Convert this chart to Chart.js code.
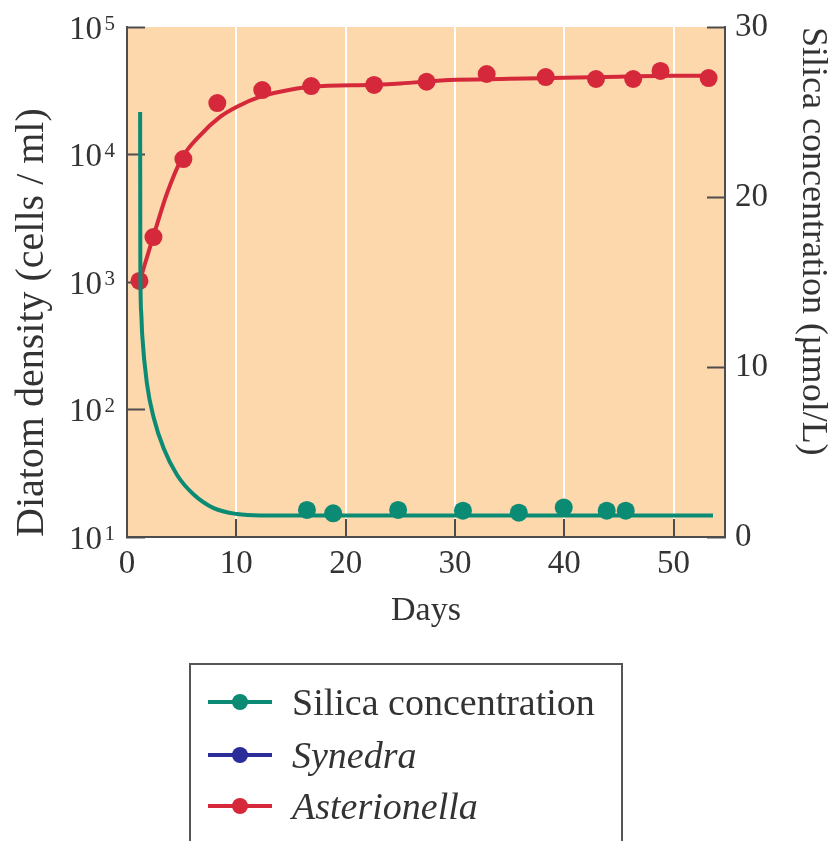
<!DOCTYPE html>
<html>
<head>
<meta charset="utf-8">
<script src="https://cdn.jsdelivr.net/npm/chart.js@4.4.0/dist/chart.umd.min.js"></script>
<style>
    body { margin: 0; width: 839px; height: 841px; overflow: hidden; background: #fff; font-family: 'Liberation Serif', serif; color: #333; }
    #wrap { position: absolute; left: 0; top: 0; width: 839px; height: 841px; }
    .legenda { position: absolute; left: 189px; top: 663px; width: 434px; height: 220px; border: 2px solid #555; box-sizing: border-box; }
    .item { position: absolute; left: 17px; height: 50px; display: flex; align-items: center; font-size: 38px; white-space: nowrap; }
    .amostra { position: relative; width: 64px; height: 4px; margin-right: 20px; }
    .amostra i { position: absolute; left: 24px; top: -6px; width: 16px; height: 16px; border-radius: 50%; }
</style>
<title>Diatom density</title>
</head>
<body>
<div id="wrap"><canvas id="grafico"></canvas></div>

<div class="legenda">
    <div class="item" style="top: 12px;"><span class="amostra" style="background:#0b8b74"><i style="background:#0b8b74"></i></span>Silica concentration</div>
    <div class="item" style="top: 65px; font-style: italic;"><span class="amostra" style="background:#2b2e98"><i style="background:#2b2e98"></i></span>Synedra</div>
    <div class="item" style="top: 116px; font-style: italic;"><span class="amostra" style="background:#d5293b"><i style="background:#d5293b"></i></span>Asterionella</div>
</div>

<script>
    // Asterionella (cells/ml) - pontos medidos
    const diasAster = [1.14, 2.42, 5.16, 8.26, 12.37, 16.85, 22.6, 27.4, 32.9, 38.3, 42.9, 46.3, 48.8, 53.2];
    const densAster = [1020, 2250, 9200, 25300, 32000, 34400, 35100, 37200, 42800, 40500, 39100, 39100, 45200, 39800];

    // curva ajustada
    const diasCurvaAster = [1.2, 2.45, 3.67, 5.04, 6.71, 8.54, 10.06, 12.19, 14.0, 16.85, 22.6, 25.0, 29.5, 35, 40, 45, 50, 53.2];
    const densCurvaAster = [1040, 2340, 4990, 9400, 14200, 19800, 23700, 28400, 31100, 34000, 35300, 36100, 38400, 39200, 40000, 40800, 41500, 41500];

    // silica (umol/L) - pontos medidos
    const diasSilica = [16.46, 18.86, 24.8, 30.73, 35.84, 39.95, 43.88, 45.62];
    const valSilica = [1.59, 1.39, 1.59, 1.55, 1.43, 1.74, 1.55, 1.55];

    // curva da silica
    const diasCurvaSilica = [1.2, 1.22, 1.3, 1.39, 1.84, 2.45, 3.36, 4.58, 6.1, 7.93, 10.06, 12.2, 53.6];
    const valCurvaSilica = [25.0, 16.0, 13.2, 11.9, 8.95, 7.0, 5.2, 3.65, 2.5, 1.7, 1.35, 1.27, 1.27];

    const potencias = [10, 100, 1000, 10000, 100000];
    const ticksSilica = [0, 10, 20, 30];

    const corFundo = '#fcd8ac';
    const corVermelho = '#d5293b';
    const corVerde = '#0b8b74';
    const corEixo = '#4d4d4d';
    const corTexto = '#333';
    const fonte = 'Liberation Serif';

    function pares(xs, ys) {
        return xs.map((x, i) => ({ x: x, y: ys[i] }));
    }

    const fundoPlot = {
        id: 'fundoPlot',
        beforeDraw(chart) {
            const a = chart.chartArea;
            chart.ctx.save();
            chart.ctx.fillStyle = corFundo;
            chart.ctx.fillRect(a.left, a.top, a.right - a.left, a.bottom - a.top);
            chart.ctx.restore();
        }
    };

    // rotulos 10^n do eixo da esquerda
    const rotulosLog = {
        id: 'rotulosLog',
        afterDraw(chart) {
            const s = chart.scales.y;
            const ctx = chart.ctx;
            const x = chart.chartArea.left;
            ctx.save();
            ctx.fillStyle = corTexto;
            ctx.textAlign = 'right';
            ctx.textBaseline = 'middle';
            s.ticks.forEach(t => {
                const py = s.getPixelForValue(t.value);
                ctx.font = '21px "' + fonte + '"';
                ctx.fillText(String(Math.round(Math.log10(t.value))), x - 12, py - 3);
                ctx.font = '33px "' + fonte + '"';
                ctx.fillText('10', x - 25, py + 3);
            });
            ctx.restore();
        }
    };

    const ctx = document.getElementById('grafico').getContext('2d');
    new Chart(ctx, {
        type: 'line',
        data: {
            datasets: [
                {
                    label: 'Silica concentration',
                    data: pares(diasCurvaSilica, valCurvaSilica),
                    yAxisID: 'y1',
                    borderColor: corVerde,
                    borderWidth: 4,
                    pointRadius: 0,
                    cubicInterpolationMode: 'monotone'
                },
                {
                    label: 'Silica pontos',
                    data: pares(diasSilica, valSilica),
                    yAxisID: 'y1',
                    showLine: false,
                    pointRadius: 9,
                    pointBackgroundColor: corVerde,
                    pointBorderWidth: 0
                },
                {
                    label: 'Asterionella',
                    data: pares(diasCurvaAster, densCurvaAster),
                    yAxisID: 'y',
                    borderColor: corVermelho,
                    borderWidth: 4,
                    pointRadius: 0,
                    cubicInterpolationMode: 'monotone'
                },
                {
                    label: 'Asterionella pontos',
                    data: pares(diasAster, densAster),
                    yAxisID: 'y',
                    showLine: false,
                    pointRadius: 9,
                    pointBackgroundColor: corVermelho,
                    pointBorderWidth: 0
                }
            ]
        },
        options: {
            responsive: true,
            maintainAspectRatio: false,
            animation: false,
            layout: { padding: { top: 27, left: 0, right: 0, bottom: 0 } },
            plugins: {
                legend: { display: false },
                tooltip: { enabled: false }
            },
            scales: {
                x: {
                    type: 'linear',
                    min: 0,
                    max: 54.7,
                    ticks: { stepSize: 10, includeBounds: false, color: corTexto, font: { family: fonte, size: 33 }, padding: 26, maxRotation: 0 },
                    grid: {
                        color: c => c.tick && c.tick.value === 0 ? 'rgba(0,0,0,0)' : '#fff',
                        lineWidth: 2,
                        tickColor: corEixo,
                        tickWidth: 2,
                        tickLength: -18
                    },
                    border: { color: corEixo, width: 2 },
                    title: { display: true, text: 'Days', color: corTexto, font: { family: fonte, size: 34 }, padding: { top: 0, bottom: 210 } },
                    afterFit: s => { s.height = 304; }
                },
                y: {
                    type: 'logarithmic',
                    position: 'left',
                    min: 10,
                    max: 100000,
                    afterBuildTicks: s => { s.ticks = potencias.map(v => ({ value: v })); },
                    ticks: { display: false },
                    grid: { drawOnChartArea: false, tickColor: corEixo, tickWidth: 2, tickLength: -18 },
                    border: { color: corEixo, width: 2 },
                    title: { display: true, text: 'Diatom density (cells / ml)', align: 'start', color: corTexto, font: { family: fonte, size: 40 }, padding: { top: 8, bottom: 0 } },
                    afterFit: s => { s.width = 127; s.paddingTop = 0; s.paddingBottom = 0; }
                },
                y1: {
                    type: 'linear',
                    position: 'right',
                    min: 0,
                    max: 30,
                    afterBuildTicks: s => { s.ticks = ticksSilica.map(v => ({ value: v })); },
                    ticks: { color: corTexto, font: { family: fonte, size: 33 }, padding: 28 },
                    grid: { drawOnChartArea: false, tickColor: corEixo, tickWidth: 2, tickLength: -18 },
                    border: { color: corEixo, width: 2 },
                    title: { display: true, text: 'Silica concentration (µmol/L)', align: 'end', color: corTexto, font: { family: fonte, size: 36 }, padding: { top: 5, bottom: 0 } },
                    afterFit: s => { s.width = 114; s.paddingTop = 0; s.paddingBottom = 0; }
                }
            }
        },
        plugins: [fundoPlot, rotulosLog]
    });
</script>
</body>
</html>
